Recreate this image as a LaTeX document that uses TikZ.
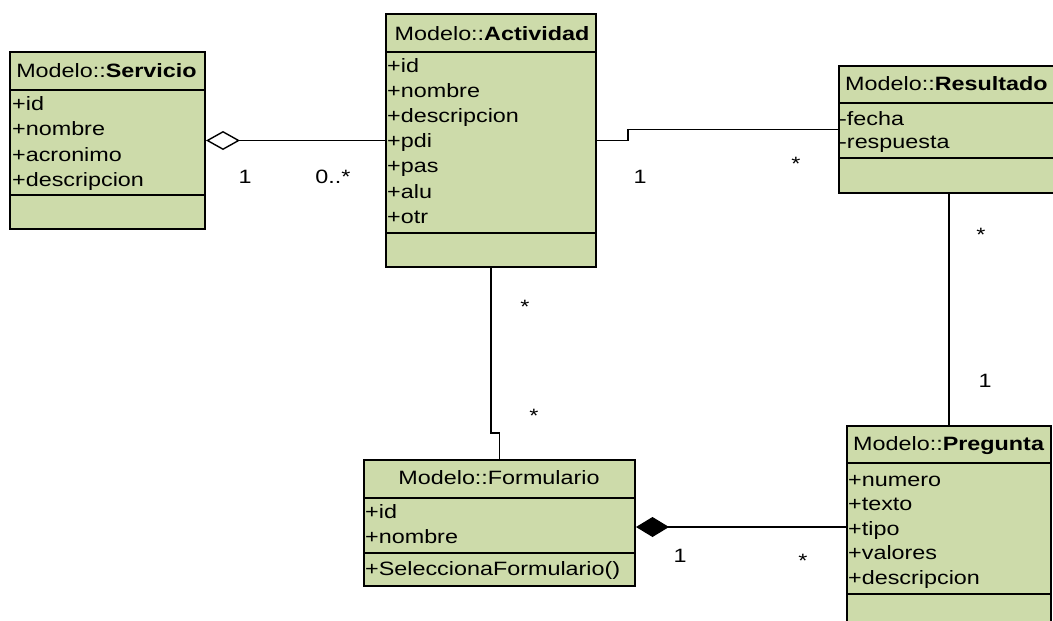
\documentclass[tikz,border=0pt]{standalone}
\usepackage{fontspec}
\setmainfont[FakeStretch=1.21]{Liberation Sans}
\usetikzlibrary{calc,arrows.meta}
\definecolor{umlfill}{RGB}{205,219,170}
\begin{document}
\begin{tikzpicture}[x=1pt,y=-1pt,
  every node/.style={font=\fontsize{19.3}{24}\selectfont},
  classbox/.style={draw=black, line width=2pt, fill=umlfill, rectangle,
    inner sep=0pt, anchor=north west},
  sep/.style={line width=2pt},
  txt/.style={anchor=base west, inner sep=0pt},
  ttl/.style={anchor=base, inner sep=0pt},
  ttlw/.style={anchor=base west, inner sep=0pt},
  mult/.style={anchor=base, inner sep=0pt},
  assoc/.style={line width=1.4pt}
]
\useasboundingbox (0,0) rectangle (1053,621);
\clip (0,0) rectangle (1053,621);
\fill[white] (0,0) rectangle (1053,621);

% ---- Servicio ----
\node[classbox, minimum width=195pt, minimum height=177pt] (serv) at (9,51) {};
\draw[sep] (serv.west |- 0,90) -- (serv.east |- 0,90);
\draw[sep] (serv.west |- 0,195) -- (serv.east |- 0,195);
\node[ttl] (servT) at (106.5,77) {Modelo::\textbf{Servicio}};
\foreach \t [count=\i] in {+id,+nombre,+acronimo,+descripcion}
  \node[txt] (serv-\i) at (12,{110+25.5*(\i-1)}) {\t};

% ---- Actividad ----
\node[classbox, minimum width=210pt, minimum height=253pt] (act) at (385,13) {};
\draw[sep] (act.west |- 0,52) -- (act.east |- 0,52);
\draw[sep] (act.west |- 0,233) -- (act.east |- 0,233);
\node[ttl] (actT) at (492,40) {Modelo::\textbf{Actividad}};
\foreach \t [count=\i] in {+id,+nombre,+descripcion,+pdi,+pas,+alu,+otr}
  \node[txt] (act-\i) at (387,{72+25.2*(\i-1)}) {\t};

% ---- Resultado ----
\node[classbox, minimum width=220pt, minimum height=127pt] (res) at (838,65) {};
\draw[sep] (res.west |- 0,103) -- (res.east |- 0,103);
\draw[sep] (res.west |- 0,158) -- (res.east |- 0,158);
\node[ttlw] (resT) at (845,90) {Modelo::\textbf{Resultado}};
\foreach \t [count=\i] in {-fecha,-respuesta}
  \node[txt] (res-\i) at (839,{125+23*(\i-1)}) {\t};

% ---- Formulario ----
\node[classbox, minimum width=271pt, minimum height=126pt] (form) at (363,459) {};
\draw[sep] (form.west |- 0,498) -- (form.east |- 0,498);
\draw[sep] (form.west |- 0,553) -- (form.east |- 0,553);
\node[ttl] (formT) at (499,484) {Modelo::Formulario};
\foreach \t [count=\i] in {+id,+nombre}
  \node[txt] (form-\i) at (365,{518+25*(\i-1)}) {\t};
\node[txt] (form-op) at (365,575) {+SeleccionaFormulario()};

% ---- Pregunta ----
\node[classbox, minimum width=204pt, minimum height=202pt] (preg) at (846,425) {};
\draw[sep] (preg.west |- 0,463) -- (preg.east |- 0,463);
\draw[sep] (preg.west |- 0,594) -- (preg.east |- 0,594);
\node[ttlw] (pregT) at (853,450) {Modelo::\textbf{Pregunta}};
\foreach \t [count=\i] in {+numero,+texto,+tipo,+valores,+descripcion}
  \node[txt] (preg-\i) at (848,{486+24.5*(\i-1)}) {\t};

% ---- Connectors ----
\draw[assoc, {Diamond[open,length=34pt,width=19pt,line width=1.4pt]}-]
  (serv.east) -- (act.west);
\draw[assoc] (act.east) -- ++(31,0) |- (res.west);
\draw[assoc] (act.south) -- ++(0,165) -| (form.north);
\draw[assoc] (res.south) -- (preg.north);
\draw[assoc, {Diamond[length=33pt,width=20pt]}-]
  (form.east |- preg.west) -- (preg.west);

% ---- Multiplicities ----
\node[mult] (m1) at (245,183) {1};
\node[mult] (m2) at (333,183) {0..*};
\node[mult] (m3) at (640,183) {1};
\node[mult] (m4) at (796,170) {*};
\node[mult] (m5) at (981,241) {*};
\node[mult] (m6) at (985,387) {1};
\node[mult] (m7) at (525,313) {*};
\node[mult] (m8) at (534,422) {*};
\node[mult] (m9) at (680,562) {1};
\node[mult] (m10) at (803,567) {*};
\end{tikzpicture}
\end{document}
